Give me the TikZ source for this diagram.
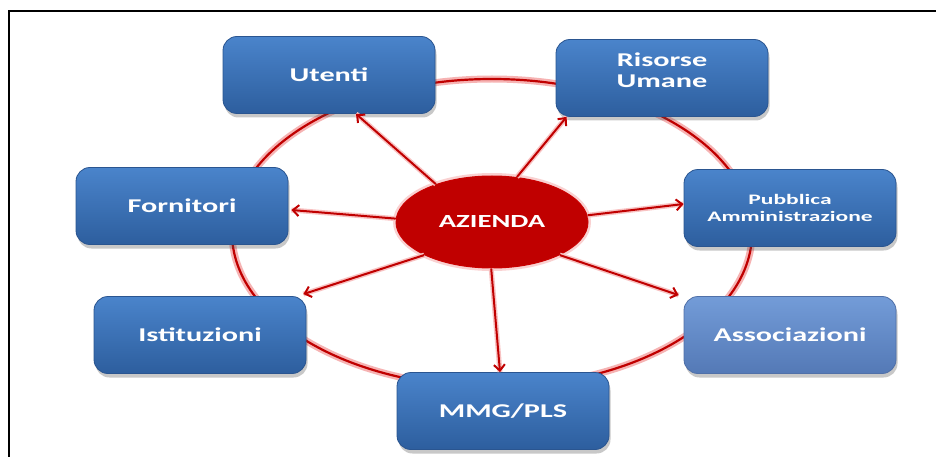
\documentclass[tikz,border=0pt]{standalone}
\usepackage{fontspec}
\newfontfamily\wfont[FakeStretch=1.55]{Carlito}
\newfontfamily\wfontb[FakeStretch=1.62]{Carlito}
\usetikzlibrary{shapes.geometric,arrows.meta,shadows,calc}
\definecolor{ringred}{HTML}{C00000}
\definecolor{glow}{HTML}{F6B3B3}
\definecolor{btop}{HTML}{4A84CB}
\definecolor{bbot}{HTML}{2D5E9E}
\definecolor{bedge}{HTML}{2A5590}
\definecolor{ltop}{HTML}{739CD8}
\definecolor{lbot}{HTML}{5479B6}
\definecolor{ledge}{HTML}{5070A8}
\begin{document}
\begin{tikzpicture}[x=1pt,y=-1pt,
  boxtext/.style={text=white, align=center, font=\wfont\bfseries\fontsize{19.5}{21.5}\selectfont},
  box/.style={boxtext, draw=bedge, line width=0.8pt, rounded corners=14pt,
    minimum width=212pt, minimum height=77pt, inner sep=0pt,
    top color=btop, bottom color=bbot,
    drop shadow={shadow xshift=1.5pt, shadow yshift=-4pt, opacity=0.3, fill=black!70}},
  lbox/.style={box, draw=ledge, top color=ltop, bottom color=lbot},
  hub/.style={ellipse, fill=ringred, draw=ringred!85!red, line width=1pt,
    minimum width=192pt, minimum height=92pt, inner sep=0pt,
    preaction={draw=glow, draw opacity=0.6, line width=6pt},
    text=white, font=\wfont\bfseries\fontsize{18.5}{20}\selectfont},
  ringline/.style={draw=ringred, line width=2.2pt, preaction={draw=glow, line width=7pt}},
  arr/.style={draw=ringred, line width=2pt, -{Straight Barb[length=6pt,width=11pt]},
    preaction={draw=glow!80, line width=5pt, arrows=-}}
]
\useasboundingbox (0,0) rectangle (936,457);
\fill[white] (0,0) rectangle (936,457);
% frame
\draw[line width=2.2pt] (9,457) -- (9,11) -- (936,11);
% ring
\draw[ringline] (492,233) ellipse [x radius=260pt, y radius=154pt];
% boxes
\node[box] (ut) at (329,75) {Utenti};
\node[box, label={[boxtext, yshift=8pt]center:{Risorse\\Umane}}] (ru) at (662,78) {};
\node[box] (fo) at (182,206) {Fornitori};
\node[box, font=\wfontb\bfseries\fontsize{14.5}{16.5}\selectfont] (pa) at (790,208) {Pubblica\\Amministrazione};
\node[box] (is) at (200,335) {Istituzioni};
\node[lbox] (as) at (790,335) {Associazioni};
\node[box] (mm) at (503,411) {MMG/PLS};
% hub
\node[hub] (az) at (492,222) {AZIENDA};
% arrows
\draw[arr] (az.146) -- ([xshift=27pt]ut.south);
\draw[arr] (az.61) -- ([xshift=11pt]ru.south west);
\draw[arr] (az.178) -- ([xshift=3pt,yshift=-4pt]fo.east);
\draw[arr] (az.4) -- ([yshift=4pt]pa.west);
\draw[arr] (az.206) -- ([xshift=-3pt,yshift=2pt]is.north east);
\draw[arr] (az.334) -- ([xshift=-5pt,yshift=1pt]as.north west);
\draw[arr] (az.269) -- ([xshift=-3pt]mm.north);
\end{tikzpicture}
\end{document}
